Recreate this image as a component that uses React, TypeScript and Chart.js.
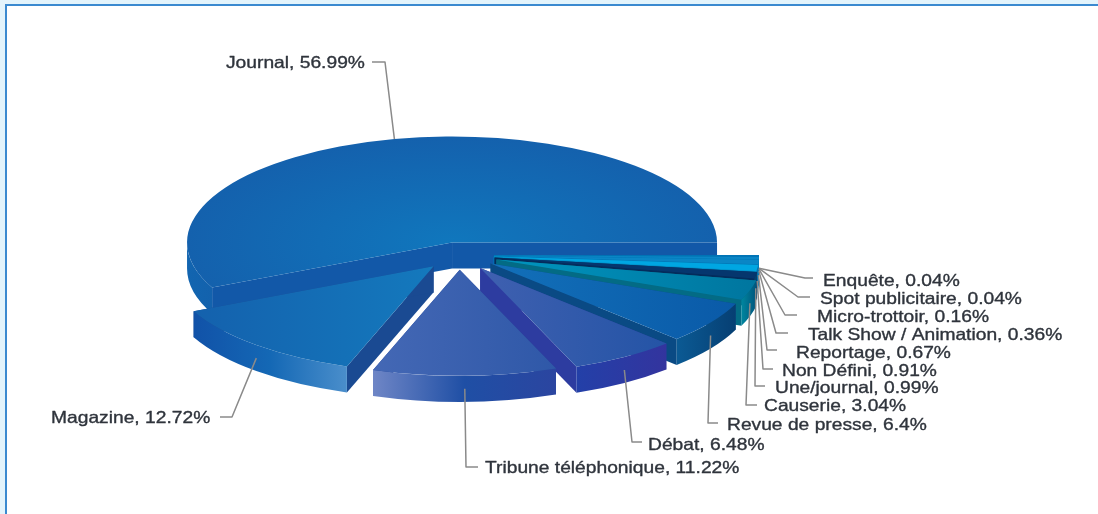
import React, { useEffect, useRef } from "react";
import { Chart, registerables } from "chart.js";

Chart.register(...registerables);

// Data, in drawing order clockwise from the east.
const categories = [
  "Enquête", "Spot publicitaire", "Micro-trottoir", "Talk Show / Animation", "Reportage",
  "Non Défini", "Une/journal", "Causerie", "Revue de presse", "Débat",
  "Tribune téléphonique", "Magazine", "Journal",
];
const shares = [0.04, 0.04, 0.16, 0.36, 0.67, 0.91, 0.99, 3.04, 6.4, 6.48, 11.22, 12.72, 56.99];

// Styling
const explode = [35, 35, 35, 35, 35, 35, 36, 39, 38, 39, 37, 38, 32];
const topFrom = ["#009bdb", "#0082c4", "#0078bd", "#0a86c6", "#0a86c6", "#00a6e2", "#05366e", "#0095bf", "#1270b9", "#3f60b0", "#4468b5", "#1461ad", "#1077bd"];
const topTo = ["#009bdb", "#0082c4", "#0078bd", "#0a86c6", "#0a86c6", "#00a6e2", "#05366e", "#00769f", "#0a5aa8", "#2454a6", "#2f58a8", "#1479bd", "#1461ad"];
const wallColor = ["#0088c8", "#0070b0", "#006aa8", "#0078b8", "#0078b8", "#0090c8", "#042c5c", "#036b85", "#0a4a84", "#2d3ca0", "#26479a", "#1a4a92", "#1258a8"];
const rimStops: string[][] = [
  ["#0095d5", "#0095d5"], ["#0080bd", "#0080bd"], ["#0075b0", "#0075b0"], ["#0075b0", "#0075b0"],
  ["#0080bd", "#0080bd"], ["#0a6fa8", "#0a6fa8"], ["#04406f", "#04406f"],
  ["#00567e", "#00869f"], ["#063f73", "#0b5a94"], ["#33349e", "#2340a8"],
  ["#2b45a0", "#1f4fa5", "#6f86c6"], ["#4a8ecb", "#1468b5", "#1152a8"], ["#1362ad", "#1265b0"],
];
const labelX = [823, 820, 817, 808, 796, 782, 775, 764, 727, 648, 485, 51, 226];
const labelY = [281, 299, 317, 335, 353, 371, 388, 406, 425, 445, 468, 418, 63];
const elbowX = [805, 798, 785, 776, 767, 763, 755, 746, 708, 632, 466, 232, 385];
const elbowY = [278, 297, 315, 333, 350, 369, 386, 405, 423, 442, 467, 417, 62];
const tailX = [813, 810, 797, 788, 777, 773, 765, 757, 718, 642, 478, 220, 372];

const RADIUS = 265;
const SQUASH = 0.4;
const DEPTH = 26;
const TEXT_STRETCH = 1.165;
const TOTAL = shares.reduce((a, b) => a + b, 0);

function sliceAngles(i: number) {
  let before = 0;
  for (let j = 0; j < i; j++) before += shares[j];
  return [(before / TOTAL) * Math.PI * 2, ((before + shares[i]) / TOTAL) * Math.PI * 2];
}

function topFill(ctx: any) {
  const chart = ctx.chart;
  const i = ctx.dataIndex;
  const area = chart.chartArea;
  if (!area || i === undefined) return topFrom[i ?? 0];
  const cx = (area.left + area.right) / 2;
  const cy = (area.top + area.bottom) / 2;
  const c2 = chart.ctx;
  if (categories[i] === "Journal") {
    const g = c2.createRadialGradient(cx, cy, 0, cx, cy, RADIUS);
    g.addColorStop(0, topFrom[i]);
    g.addColorStop(1, topTo[i]);
    return g;
  }
  const [s, e] = sliceAngles(i);
  const xs = [0, RADIUS * Math.cos(s), RADIUS * Math.cos(e)];
  const g = c2.createLinearGradient(cx + Math.min(...xs), 0, cx + Math.max(...xs), 0);
  g.addColorStop(0, topFrom[i]);
  g.addColorStop(1, topTo[i]);
  return g;
}

const pie3d = {
  id: "pie3d",
  beforeDatasetsDraw(chart: any) {
    const ctx: CanvasRenderingContext2D = chart.ctx;
    const arcs = chart.getDatasetMeta(0).data;
    const cy = (chart.chartArea.top + chart.chartArea.bottom) / 2;
    const anchors: { x: number; y: number }[] = [];

    // frame
    ctx.save();
    ctx.fillStyle = "#e3f4fc";
    ctx.fillRect(0, 0, chart.width, 4);
    ctx.fillRect(0, 0, 5, chart.height);
    ctx.fillStyle = "#3b8ad0";
    ctx.fillRect(5, 4, chart.width, 2);
    ctx.fillRect(5, 4, 2, chart.height);
    ctx.restore();

    // back to front: Journal, then the thin slices downward, Magazine, then Tribune
    const order = [12, 0, 1, 2, 3, 4, 5, 6, 7, 8, 9, 11, 10];
    for (const i of order) {
      const arc = arcs[i];
      const { x, startAngle: s, endAngle: e } = arc.getProps(["x", "startAngle", "endAngle"], true);
      const mid = (s + e) / 2;
      const ox = x + explode[i] * Math.cos(mid);
      const oy = cy + SQUASH * explode[i] * Math.sin(mid);
      const px = (a: number) => ox + RADIUS * Math.cos(a);
      const py = (a: number) => oy + SQUASH * RADIUS * Math.sin(a);

      // cut faces
      ctx.fillStyle = wallColor[i];
      for (const a of [s, e]) {
        ctx.beginPath();
        ctx.moveTo(ox, oy);
        ctx.lineTo(px(a), py(a));
        ctx.lineTo(px(a), py(a) + DEPTH);
        ctx.lineTo(ox, oy + DEPTH);
        ctx.closePath();
        ctx.fill();
      }

      // outer rim where it faces the viewer
      const a0 = Math.max(s, 0);
      const a1 = Math.min(e, Math.PI);
      if (a1 > a0 && s < Math.PI) {
        const xa = px(a0), xb = px(a1);
        const g = ctx.createLinearGradient(Math.min(xa, xb), 0, Math.max(xa, xb), 0);
        const stops = rimStops[i];
        const ordered = xa > xb ? stops.slice().reverse() : stops;
        ordered.forEach((c, k) => g.addColorStop(k / (ordered.length - 1), c));
        ctx.fillStyle = g;
        ctx.beginPath();
        ctx.ellipse(ox, oy, RADIUS, SQUASH * RADIUS, 0, a0, a1, false);
        ctx.ellipse(ox, oy + DEPTH, RADIUS, SQUASH * RADIUS, 0, a1, a0, true);
        ctx.closePath();
        ctx.fill();
      }

      // top face, drawn by the library's own arc element
      ctx.save();
      ctx.translate(ox - x, oy);
      ctx.scale(1, SQUASH);
      ctx.translate(0, -cy);
      arc.draw(ctx);
      ctx.restore();

      // leader starts on the far rim for back slices, mid-wall for front slices
      anchors[i] = { x: px(mid), y: py(mid) + (Math.sin(mid) > 0 ? DEPTH / 2 : 0) };
    }

    // leaders and labels
    ctx.save();
    ctx.strokeStyle = "#8a8a8a";
    ctx.lineWidth = 1.5;
    ctx.lineJoin = "round";
    for (let i = 0; i < categories.length; i++) {
      ctx.beginPath();
      ctx.moveTo(anchors[i].x, anchors[i].y);
      ctx.lineTo(elbowX[i], elbowY[i]);
      ctx.lineTo(tailX[i], elbowY[i]);
      ctx.stroke();
    }
    ctx.fillStyle = "#2f343c";
    ctx.strokeStyle = "#2f343c";
    ctx.lineWidth = 0.35;
    ctx.font = '16.5px "Liberation Sans", Arial, sans-serif';
    ctx.textBaseline = "middle";
    ctx.textAlign = "left";
    for (let i = 0; i < categories.length; i++) {
      const text = `${categories[i]}, ${shares[i]}%`;
      ctx.save();
      ctx.translate(labelX[i], labelY[i]);
      ctx.scale(TEXT_STRETCH, 1);
      ctx.fillText(text, 0, 0);
      ctx.strokeText(text, 0, 0);
      ctx.restore();
    }
    ctx.restore();
    return false;
  },
};

export default function App() {
  const ref = useRef<HTMLCanvasElement>(null);
  useEffect(() => {
    document.body.style.margin = "0";
    document.body.style.background = "#fff";
    const chart = new Chart(ref.current!, {
      type: "pie",
      data: {
        labels: categories,
        datasets: [{ data: shares, backgroundColor: topFill as any, borderWidth: 0, clip: false as any }],
      },
      options: {
        responsive: false,
        animation: false,
        devicePixelRatio: 1,
        rotation: 90,
        radius: RADIUS,
        layout: { padding: { left: 0, top: 0, right: 180, bottom: 4 } },
        plugins: { legend: { display: false }, tooltip: { enabled: false }, title: { display: false } },
      },
      plugins: [pie3d as any],
    });
    return () => chart.destroy();
  }, []);
  return (
    <canvas
      ref={ref}
      width={1098}
      height={514}
      style={{ display: "block", width: 1098, height: 514, filter: "blur(0.6px)" }}
    />
  );
}
